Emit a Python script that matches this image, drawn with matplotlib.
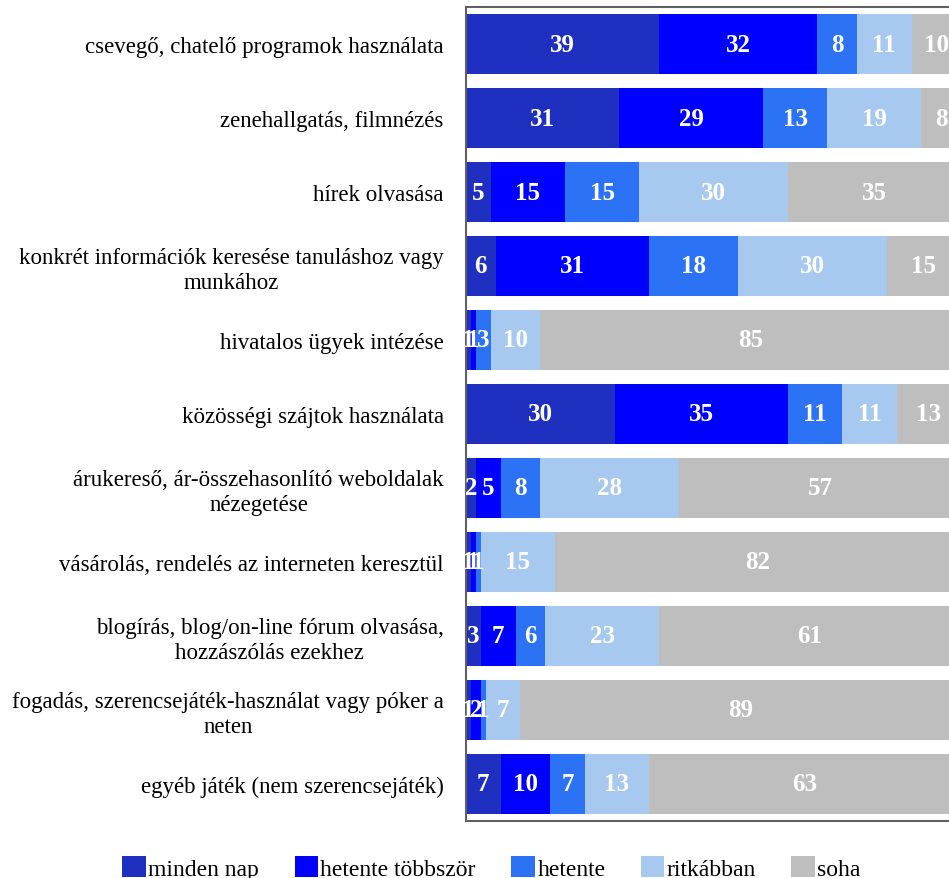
import numpy as np
import matplotlib.pyplot as plt
from matplotlib.patches import Patch

categories = [
    "csevegő, chatelő programok használata",
    "zenehallgatás, filmnézés",
    "hírek olvasása",
    "konkrét információk keresése tanuláshoz vagy\nmunkához",
    "hivatalos ügyek intézése",
    "közösségi szájtok használata",
    "árukereső, ár-összehasonlító weboldalak\nnézegetése",
    "vásárolás, rendelés az interneten keresztül",
    "blogírás, blog/on-line fórum olvasása,\nhozzászólás ezekhez",
    "fogadás, szerencsejáték-használat vagy póker a\nneten",
    "egyéb játék (nem szerencsejáték)",
]
series_names = ["minden nap", "hetente többször", "hetente", "ritkábban", "soha"]
minden_nap = [39, 31, 5, 6, 1, 30, 2, 1, 3, 1, 7]
hetente_tobbszor = [32, 29, 15, 31, 1, 35, 5, 1, 7, 2, 10]
hetente = [8, 13, 15, 18, 3, 11, 8, 1, 6, 1, 7]
ritkabban = [11, 19, 30, 30, 10, 11, 28, 15, 23, 7, 13]
soha = [10, 8, 35, 15, 85, 13, 57, 82, 61, 89, 63]
colors = ["#1f2fbf", "#0000ff", "#2c72f4", "#a7c9f0", "#bebebe"]

series = [minden_nap, hetente_tobbszor, hetente, ritkabban, soha]

plt.rcParams['font.family'] = ['Liberation Serif', 'DejaVu Serif']

fig = plt.figure(figsize=(9.49, 8.79), dpi=100)
ax = fig.add_axes([466 / 949, 57 / 879, 495 / 949, 814 / 879])

y = np.arange(len(categories))
left = np.zeros(len(categories))
for vals, name, col in zip(series, series_names, colors):
    vals = np.array(vals, dtype=float)
    bars = ax.barh(y, vals, left=left, height=0.81, color=col, label=name)
    for b, v in zip(bars, vals):
        ax.text(b.get_x() + b.get_width() / 2, b.get_y() + b.get_height() / 2,
                "%d" % v, ha='center', va='center', color='white',
                fontsize=18, fontweight='bold')
    left += vals

ax.set_xlim(0, 100)
ax.set_ylim(len(categories) - 0.5, -0.5)
ax.set_xticks([])
ax.set_yticks(y)
ax.set_yticklabels(categories, fontsize=16.5, multialignment='center', linespacing=1.25)
ax.tick_params(axis='y', length=0, pad=16)
for s in ax.spines.values():
    s.set_color('#606060')
    s.set_linewidth(1.5)

handles = [Patch(facecolor=c, edgecolor='none') for c in colors]
fig.legend(handles, series_names, loc='lower center', ncol=5, frameon=False,
           bbox_to_anchor=(0.518, -0.026), fontsize=17, handlelength=1.0,
           handleheight=1.0, handletextpad=0.1, columnspacing=1.5)

fig.savefig("out.png", dpi=100)
